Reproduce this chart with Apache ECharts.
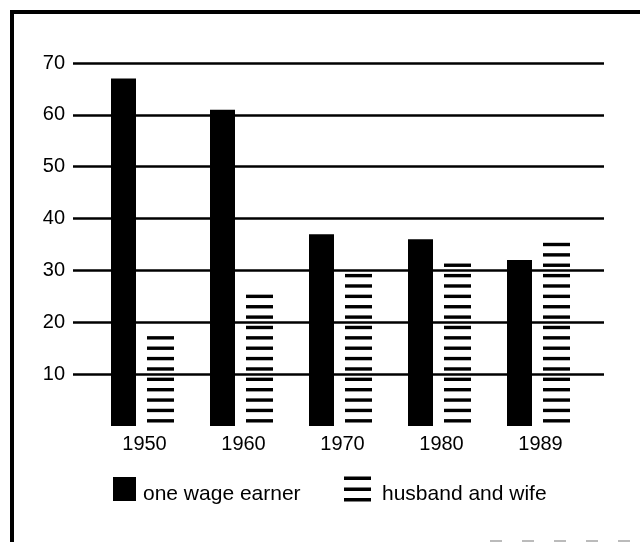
<!DOCTYPE html>
<html>
<head>
<meta charset="utf-8">
<script src="https://cdn.jsdelivr.net/npm/echarts@6/dist/echarts.min.js"></script>
<style>
  html, body { margin: 0; padding: 0; background: #fff; }
  #chart { width: 640px; height: 542px; }
</style>
</head>
<body>
<div id="chart"></div>
<script>
const categories = ['1950', '1960', '1970', '1980', '1989'];
const oneWageEarner = [67, 61, 37, 36, 32];
const husbandAndWife = [18, 26, 29, 31.5, 35];
const gridTicksMin = 10;
const gridTicksMax = 70;
const gridTickStep = 10;

const FONT = "'Liberation Sans', Arial, Helvetica, sans-serif";
const chart = echarts.init(document.getElementById('chart'), null, { renderer: 'canvas' });

const option = {
  backgroundColor: '#ffffff',
  animation: false,
  grid: [
    { left: 73, right: 36, top: 63, bottom: 168 },
    { left: 93, right: 52, top: 63, bottom: 116 }
  ],
  xAxis: [
    { gridIndex: 0, type: 'category', data: categories, show: false },
    {
      gridIndex: 1, type: 'category', data: categories,
      axisLine: { show: false }, axisTick: { show: false },
      axisLabel: { color: '#000', fontFamily: FONT, fontSize: 20, margin: 8, padding: [0, 0, 0, 4] }
    }
  ],
  yAxis: [
    {
      gridIndex: 0, type: 'value', min: gridTicksMin, max: gridTicksMax, interval: gridTickStep,
      axisLine: { show: false }, axisTick: { show: false },
      axisLabel: { color: '#000', fontFamily: FONT, fontSize: 20, margin: 8 },
      splitLine: { show: true, lineStyle: { color: '#000', width: 2.6 } }
    },
    {
      gridIndex: 1, type: 'value', min: 0, max: gridTicksMax, interval: gridTickStep,
      show: false, splitLine: { show: false }
    }
  ],
  legend: [
    {
      data: ['one wage earner'], left: 113, top: 477, padding: 0,
      itemWidth: 23, itemHeight: 34,
      icon: 'path://M0,0H23V24H0Z M0,33.95H0.05V34H0Z',
      textStyle: { color: '#000', fontFamily: FONT, fontSize: 21, padding: [0, 0, 0, 2] }
    },
    {
      data: ['husband and wife'], left: 344, top: 476.5, padding: 0,
      itemWidth: 27, itemHeight: 35,
      icon: 'path://M0,0H27V3.5H0Z M0,11H27V14.5H0Z M0,21.5H27V25H0Z M0,34.95H0.05V35H0Z',
      textStyle: { color: '#000', fontFamily: FONT, fontSize: 21, padding: [0, 0, 0, 6] }
    }
  ],
  series: [
    {
      name: 'one wage earner', type: 'pictorialBar',
      xAxisIndex: 1, yAxisIndex: 1,
      data: oneWageEarner,
      symbol: 'rect', barWidth: 25, barGap: '44%',
      itemStyle: { color: '#000' }
    },
    {
      name: 'husband and wife', type: 'pictorialBar',
      xAxisIndex: 1, yAxisIndex: 1,
      data: husbandAndWife,
      symbol: 'rect', barWidth: 27, barGap: '44%',
      symbolSize: ['100%', 3.4], symbolRepeat: true, symbolMargin: '3.5!',
      itemStyle: { color: '#000' }
    }
  ],
  graphic: [
    {
      type: 'polyline', silent: true,
      shape: { points: [[12, 542], [12, 12], [640, 12]] },
      style: { stroke: '#000', lineWidth: 4, fill: null }
    },
    {
      type: 'line', silent: true,
      shape: { x1: 490, y1: 541, x2: 640, y2: 541 },
      style: { stroke: '#bbb', lineWidth: 2, lineDash: [12, 20] }
    }
  ]
};
chart.setOption(option);
</script>
</body>
</html>
